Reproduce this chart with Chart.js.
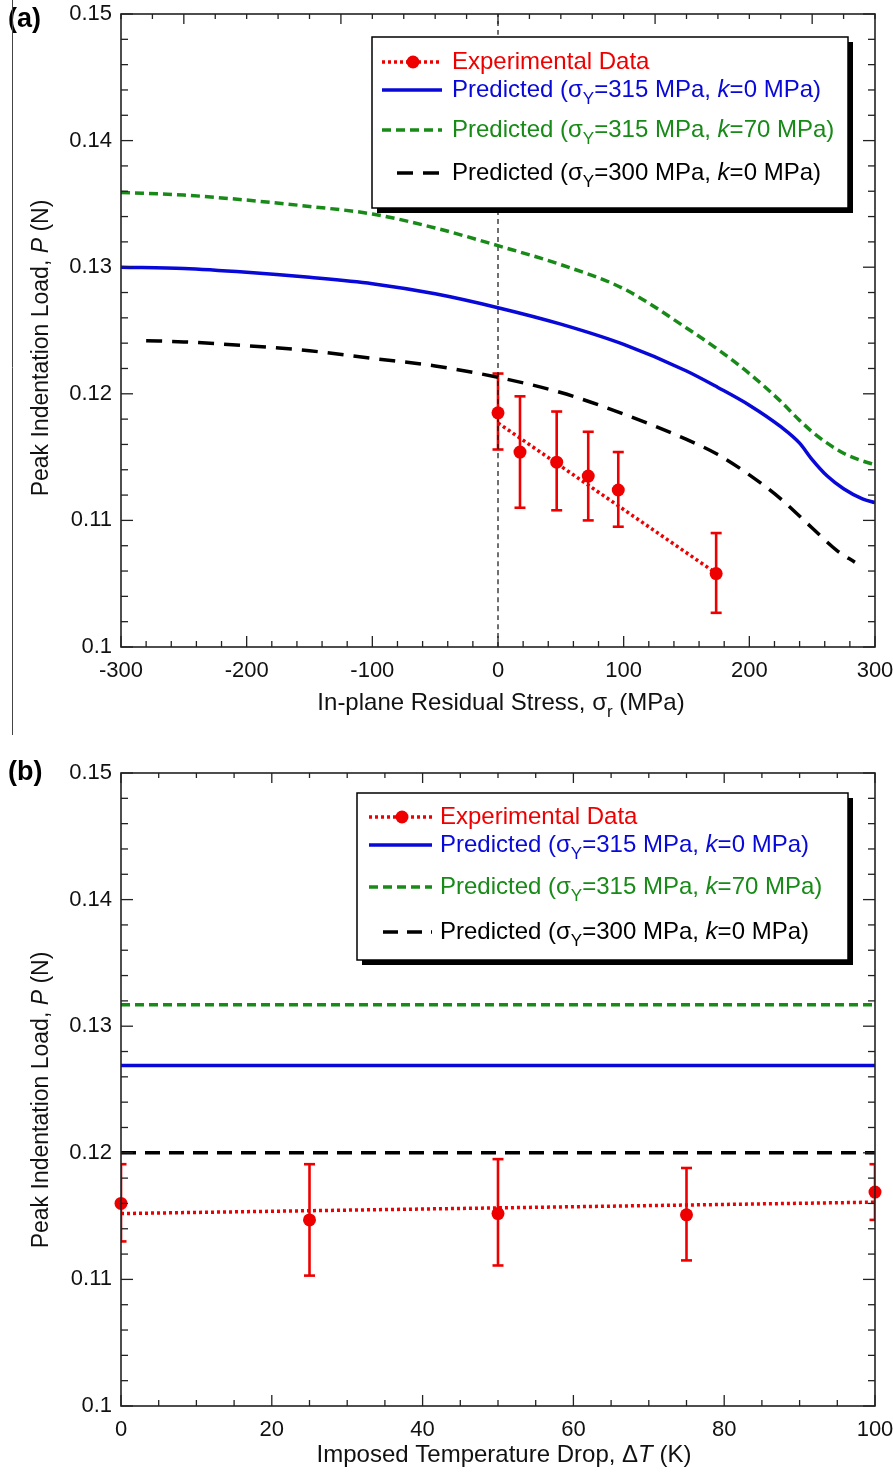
<!DOCTYPE html>
<html>
<head>
<meta charset="utf-8">
<title>Peak Indentation Load</title>
<script src="https://cdn.jsdelivr.net/npm/chart.js"></script>
<style>
  body { margin: 0; background: #fff; }
  #wrap { position: relative; width: 893px; height: 1472px; }
  .panel { position: absolute; left: 0; width: 893px; }
</style>
</head>
<body>
<div id="wrap">
  <div class="panel" style="top:0;height:735px"><canvas id="chartA" width="893" height="735"></canvas></div>
  <div class="panel" style="top:740px;height:732px"><canvas id="chartB" width="893" height="732"></canvas></div>
</div>

<script>
// ---- panel (a): load vs in-plane residual stress ----
const predX = [-300, -250, -200, -150, -100, -50, 0, 50, 100, 150, 175, 200, 225, 240, 250, 262, 275, 290, 300];
const blueA  = [0.1300, 0.1299, 0.1296, 0.1292, 0.1287, 0.1279, 0.1268, 0.1255, 0.1239, 0.1218, 0.1205, 0.1191, 0.1174, 0.1161, 0.1148, 0.1135, 0.1125, 0.1117, 0.1114];
const greenA = [0.1359, 0.1357, 0.1353, 0.1348, 0.1342, 0.1331, 0.1317, 0.1302, 0.1283, 0.1252, 0.1235, 0.1216, 0.1194, 0.1179, 0.1170, 0.1161, 0.1153, 0.1147, 0.1144];
const blackX = [-280, -250, -200, -150, -100, -50, 0, 50, 100, 150, 175, 200, 225, 250, 270, 284];
const blackA = [0.1242, 0.1241, 0.1238, 0.1234, 0.1228, 0.1222, 0.1213, 0.1201, 0.1184, 0.1164, 0.1152, 0.1136, 0.1117, 0.1094, 0.1076, 0.1067];

const expStressX = [0, 17.5, 46.7, 71.8, 95.7, 173.6];
const expLoadA   = [0.1185, 0.1154, 0.1146, 0.1135, 0.1124, 0.1058];
const expHighA   = [0.1216, 0.1198, 0.1186, 0.1170, 0.1154, 0.1090];
const expLowA    = [0.1156, 0.1110, 0.1108, 0.1100, 0.1095, 0.1027];
const fitStressX = [0, 174];
const fitLoadA   = [0.1177, 0.1058];
const zeroLineX  = [0, 0];
const zeroLineY  = [0.1, 0.15];

// ---- panel (b): load vs imposed temperature drop ----
const dropX     = [0, 25, 50, 75, 100];
const expLoadB  = [0.1160, 0.1147, 0.1152, 0.1151, 0.1169];
const expHighB  = [0.1191, 0.1191, 0.1195, 0.1188, 0.1191];
const expLowB   = [0.1130, 0.1103, 0.1111, 0.1115, 0.1147];
const fitDropX  = [0, 100];
const fitLoadB  = [0.1152, 0.1161];
const lineDropX = [0, 100];
const blueB  = [0.1269, 0.1269];
const greenB = [0.1317, 0.1317];
const blackB = [0.1200, 0.1200];

// legend labels
const predYield = [315, 315, 300];
const predK = [0, 70, 0];

const RED = '#ee0000', BLUE = '#0808d8', GREEN = '#178a17', BLACK = '#000';
const FONT = '"Liberation Sans", Arial, sans-serif';
Chart.defaults.font.family = FONT;
Chart.defaults.color = '#111';

const pts = (xs, ys) => xs.map((x, i) => ({ x: x, y: ys[i] }));

function fontOf(p, size) {
  return (p.it ? 'italic ' : '') + (p.b ? 'bold ' : '') + (p.sub ? Math.round(size * 0.72) : size) + 'px ' + FONT;
}
function drawRich(ctx, parts, x, y, size, align) {
  let w = 0;
  parts.forEach(p => { ctx.font = fontOf(p, size); w += ctx.measureText(p.t).width; });
  let cx = align === 'center' ? x - w / 2 : x;
  ctx.textAlign = 'left';
  ctx.textBaseline = 'middle';
  parts.forEach(p => {
    ctx.font = fontOf(p, size);
    ctx.fillText(p.t, cx, y + (p.sub ? size * 0.4 : 0));
    cx += ctx.measureText(p.t).width;
  });
}
const predLabel = i => [
  { t: 'Predicted (σ' }, { t: 'Y', sub: true },
  { t: '=' + predYield[i] + ' MPa, ' }, { t: 'k', it: true }, { t: '=' + predK[i] + ' MPa)' }
];

function line(ctx, x0, y0, x1, y1) {
  ctx.beginPath(); ctx.moveTo(x0, y0); ctx.lineTo(x1, y1); ctx.stroke();
}

function drawTicks(ctx, scale, vmin, vmax, minor, major, fixed, len, dir, horiz) {
  const n = Math.round((vmax - vmin) / minor);
  for (let i = 0; i <= n; i++) {
    const v = vmin + i * minor;
    const r = v / major;
    const isMajor = Math.abs(r - Math.round(r)) < 1e-6;
    const p = scale.getPixelForValue(v);
    const l = isMajor ? len[0] : len[1];
    if (horiz) line(ctx, p, fixed, p, fixed + dir * l);
    else line(ctx, fixed, p, fixed + dir * l, p);
  }
}

function panelPlugin(c) {
  return {
    id: 'panel' + c.tag,
    beforeDatasetsDraw(chart) {
      const { ctx, chartArea: a, scales: { x, y } } = chart;
      ctx.save();
      ctx.beginPath(); ctx.rect(a.left, a.top, a.right - a.left, a.bottom - a.top); ctx.clip();
      ctx.strokeStyle = RED; ctx.lineWidth = 2.6;
      c.errX.forEach((xv, i) => {
        const px = x.getPixelForValue(xv);
        const hi = y.getPixelForValue(c.errHi[i]);
        const lo = y.getPixelForValue(c.errLo[i]);
        line(ctx, px, hi, px, lo);
        line(ctx, px - 5.5, hi, px + 5.5, hi);
        line(ctx, px - 5.5, lo, px + 5.5, lo);
      });
      ctx.restore();
    },
    afterDatasetsDraw(chart) {
      const { ctx, chartArea: a, scales: { x, y } } = chart;
      ctx.save();
      ctx.strokeStyle = '#222'; ctx.lineWidth = 1.3;
      drawTicks(ctx, x, c.xMin, c.xMax, c.xMinor, c.xMajor, a.bottom, [11, 6], -1, true);
      drawTicks(ctx, x, c.xMin, c.xMax, c.topMinor, c.topMajor, a.top, [10, 5], 1, true);
      drawTicks(ctx, y, 0.1, 0.15, 0.002, 0.01, a.left, [12, 7], 1, false);
      drawTicks(ctx, y, 0.1, 0.15, 0.002, 0.01, a.right, [12, 7], -1, false);
      ctx.lineWidth = 1.6;
      ctx.strokeRect(a.left, a.top, a.right - a.left, a.bottom - a.top);

      // legend box with drop shadow
      const L = c.legend, w = L.right - L.left, h = L.bottom - L.top;
      ctx.fillStyle = '#000'; ctx.fillRect(L.left + 5, L.top + 5, w, h);
      ctx.fillStyle = '#fff'; ctx.fillRect(L.left, L.top, w, h);
      ctx.strokeStyle = '#000'; ctx.lineWidth = 1.5; ctx.strokeRect(L.left, L.top, w, h);
      L.rows.forEach(r => {
        const ds = chart.data.datasets[r.ds];
        ctx.strokeStyle = ds.borderColor;
        ctx.lineWidth = ds.borderWidth;
        ctx.setLineDash(ds.borderDash || []);
        line(ctx, r.sx0 || L.sx0, r.y, L.sx1, r.y);
        ctx.setLineDash([]);
        if (r.markerDs !== undefined) {
          const m = chart.data.datasets[r.markerDs];
          ctx.fillStyle = m.pointBackgroundColor;
          ctx.beginPath(); ctx.arc(L.mx, r.y, m.pointRadius, 0, Math.PI * 2); ctx.fill();
        }
        ctx.fillStyle = ds.borderColor;
        drawRich(ctx, r.parts, L.tx, r.y, 24, 'left');
      });
      ctx.restore();
    },
    afterDraw(chart) {
      const ctx = chart.ctx;
      ctx.save();
      ctx.fillStyle = '#111';
      drawRich(ctx, c.xTitle, c.xTitlePos[0], c.xTitlePos[1], 24, 'center');
      ctx.save();
      ctx.translate(c.yTitlePos[0], c.yTitlePos[1]);
      ctx.rotate(-Math.PI / 2);
      drawRich(ctx, [{ t: 'Peak Indentation Load, ' }, { t: 'P', it: true }, { t: ' (N)' }], 0, 0, 23, 'center');
      ctx.restore();
      ctx.fillStyle = '#000';
      drawRich(ctx, [{ t: '(' + c.tag + ')', b: true }], 8, c.tagY, 27, 'left');
      if (c.sideLine) {
        ctx.strokeStyle = '#444'; ctx.lineWidth = 1;
        line(ctx, 12.5, 0, 12.5, chart.height);
      }
      ctx.restore();
    }
  };
}

function makeScales(xMin, xMax, xStep, xHeight) {
  return {
    x: {
      type: 'linear', min: xMin, max: xMax,
      grid: { display: false, drawTicks: false }, border: { display: false },
      ticks: { stepSize: xStep, padding: 11, maxRotation: 0, autoSkip: false, color: '#111', font: { size: 22 },
               callback: v => String(v) },
      afterFit: s => { s.height = xHeight; s.paddingLeft = 0; s.paddingRight = 0; }
    },
    y: {
      type: 'linear', min: 0.1, max: 0.15,
      grid: { display: false, drawTicks: false }, border: { display: false },
      ticks: { stepSize: 0.01, padding: 9, color: '#111', font: { size: 22 },
               callback: v => String(+v.toFixed(3)) },
      afterFit: s => { s.width = 121; s.paddingTop = 0; s.paddingBottom = 0; }
    }
  };
}

function expSet(data) {
  return { data: data, showLine: false, borderColor: RED, pointBackgroundColor: RED, pointBorderColor: RED,
           pointRadius: 6.5, pointBorderWidth: 0, clip: false, order: 0 };
}
function curve(data, color, width, dash, order) {
  return { data: data, borderColor: color, borderWidth: width, borderDash: dash, pointRadius: 0,
           cubicInterpolationMode: 'monotone', fill: false, order: order };
}

const baseOpts = (top, scales) => ({
  responsive: false, animation: false,
  layout: { padding: { left: 0, right: 18, top: top, bottom: 0 } },
  plugins: { legend: { display: false }, tooltip: { enabled: false } },
  scales: scales
});

// panel (a)
new Chart(document.getElementById('chartA').getContext('2d'), {
  type: 'line',
  data: {
    datasets: [
      expSet(pts(expStressX, expLoadA)),
      curve(pts(fitStressX, fitLoadA), RED, 3.5, [3, 3], 1),
      curve(pts(predX, blueA), BLUE, 3.5, [], 2),
      curve(pts(predX, greenA), GREEN, 3.5, [9, 5], 3),
      curve(pts(blackX, blackA), BLACK, 3.5, [16, 10], 4),
      curve(pts(zeroLineX, zeroLineY), '#111', 1.2, [5, 4], 10)
    ]
  },
  options: baseOpts(14, makeScales(-300, 300, 100, 88)),
  plugins: [panelPlugin({
    tag: 'a', tagY: 20, sideLine: true,
    xMin: -300, xMax: 300, xMinor: 20, xMajor: 100, topMinor: 25, topMajor: 125,
    errX: expStressX, errHi: expHighA, errLo: expLowA,
    xTitle: [{ t: 'In-plane Residual Stress, σ' }, { t: 'r', sub: true }, { t: ' (MPa)' }],
    xTitlePos: [501, 703], yTitlePos: [42, 348],
    legend: {
      left: 372, top: 37, right: 848, bottom: 208, sx0: 382, sx1: 442, mx: 413, tx: 452,
      rows: [
        { y: 62, ds: 1, markerDs: 0, parts: [{ t: 'Experimental Data' }] },
        { y: 90, ds: 2, parts: predLabel(0) },
        { y: 130, ds: 3, parts: predLabel(1) },
        { y: 173, ds: 4, sx0: 397, parts: predLabel(2) }
      ]
    }
  })]
});

// panel (b)
new Chart(document.getElementById('chartB').getContext('2d'), {
  type: 'line',
  data: {
    datasets: [
      expSet(pts(dropX, expLoadB)),
      curve(pts(fitDropX, fitLoadB), RED, 3.5, [3, 3], 1),
      curve(pts(lineDropX, blueB), BLUE, 3.5, [], 2),
      curve(pts(lineDropX, greenB), GREEN, 3.5, [9, 5], 3),
      curve(pts(lineDropX, blackB), BLACK, 3.5, [15, 9], 4)
    ]
  },
  options: baseOpts(33, makeScales(0, 100, 20, 66)),
  plugins: [panelPlugin({
    tag: 'b', tagY: 33, sideLine: false,
    xMin: 0, xMax: 100, xMinor: 5, xMajor: 20, topMinor: 5, topMajor: 20,
    errX: dropX, errHi: expHighB, errLo: expLowB,
    xTitle: [{ t: 'Imposed Temperature Drop, Δ' }, { t: 'T', it: true }, { t: ' (K)' }],
    xTitlePos: [504, 715], yTitlePos: [42, 360],
    legend: {
      left: 357, top: 53, right: 848, bottom: 220, sx0: 369, sx1: 432, mx: 402, tx: 440,
      rows: [
        { y: 77, ds: 1, markerDs: 0, parts: [{ t: 'Experimental Data' }] },
        { y: 105, ds: 2, parts: predLabel(0) },
        { y: 147, ds: 3, parts: predLabel(1) },
        { y: 192, ds: 4, sx0: 383, parts: predLabel(2) }
      ]
    }
  })]
});
</script>
</body>
</html>
